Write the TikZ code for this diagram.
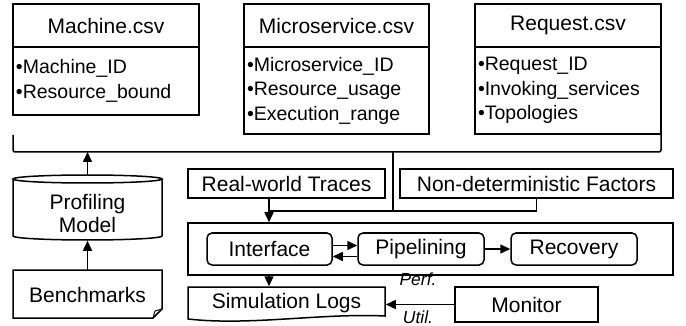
\documentclass[tikz,border=0pt]{standalone}
\usepackage{fontspec}
\setmainfont{Liberation Sans}
\usetikzlibrary{arrows.meta}
\begin{document}
\begin{tikzpicture}[x=1pt,y=-1pt,line width=1.5pt,
  lbl/.style={font=\fontsize{21}{23}\selectfont, inner sep=0pt},
  box/.style={draw, rectangle, inner sep=0pt, font=\fontsize{21}{25}\selectfont},
  listbox/.style={draw, rectangle, inner xsep=3pt, inner ysep=0pt, align=left,
     font=\fontsize{19.5}{24.5}\selectfont},
  rbox/.style={box, rounded corners=5pt, minimum width=125pt, minimum height=32pt},
  plain/.style={inner sep=0pt, font=\fontsize{21}{25}\selectfont},
  note/.style={font=\fontsize{17.5}{19}\selectfont\itshape, inner sep=0pt},
  arr/.style={-{Triangle[length=10pt,width=9pt]}}]
\useasboundingbox (0,0) rectangle (686,326);

% csv tables
\node[box, minimum width=186pt, minimum height=43pt] (mt) at (106,25.5) {Machine.csv};
\node[listbox, text width=180pt, minimum height=68pt] (mb) at (106,81)
  {•Machine\_ID\\•Resource\_bound};
\node[box, minimum width=185pt, minimum height=43pt] (st) at (336.5,25.5) {Microservice.csv};
\node[listbox, text width=179pt, minimum height=87pt] (sb) at (336.5,90.5)
  {•Microservice\_ID\\•Resource\_usage\\•Execution\_range};
\node[box, minimum width=186pt, minimum height=43pt] (qt) at (568,25.5) {Request.csv};
\node[listbox, text width=180pt, minimum height=87pt] (qb) at (568,90.5)
  {•Request\_ID\\•Invoking\_services\\•Topologies};

% bracket
\coordinate (bA) at (13,135);
\coordinate (bB) at (13,152);
\coordinate (bC) at (661,152);
\coordinate (bD) at (661,135);
\coordinate (bJ) at (393,152);
\draw[rounded corners=2pt] (bA) -- (bB) -- (bC) -- (bD);

% profiling model (cylinder)
\node[plain, minimum width=149pt, minimum height=65pt] (prof) at (87.5,207.5) {};
\draw (13,179) -- (13,236) arc[start angle=180,end angle=360,x radius=74.5pt,y radius=4pt] -- (162,179);
\draw (87.5,179) ellipse[x radius=74.5pt, y radius=4pt];
\node[lbl, align=center] (profT) at (87.5,213) {Profiling\\Model};

% benchmarks (note)
\node[plain, minimum width=149pt, minimum height=48pt] (bench) at (87.5,295) {Benchmarks};
\draw (13,270) -- (162,270) -- (162,309) -- (153,318) -- (13,318) -- cycle;
\draw[line width=0.9pt] (153,318) -- (155,311) -- (162,309);

\draw[arr] (bench.north) -- (prof.south);
\draw[arr] (prof.north) -- (prof.north |- bB);

% inputs
\node[box, minimum width=197pt, minimum height=29pt] (rw) at (286.5,183.5) {Real-world Traces};
\node[box, minimum width=273pt, minimum height=29pt] (nd) at (536.5,183.5) {Non-deterministic Factors};
\coordinate (jM) at (393,211);
\coordinate (jL) at (269,211);
\draw (bJ) -- (jM);
\draw (nd.south) -- (nd.south |- jM) -- (jL);

% simulator
\node[box, minimum width=485pt, minimum height=52pt] (big) at (430.5,249) {};
\node[rbox] (if) at (269.5,249) {Interface};
\node[rbox, minimum width=126pt] (pl) at (421,249) {Pipelining};
\node[rbox, minimum width=126pt] (rc) at (574,249) {Recovery};
\draw[arr] (rw.south -| jL) -- (big.north -| jL);
\draw[arr] ([yshift=3.5pt]if.east) -- ([yshift=3.5pt]if.east -| pl.west);
\draw[arr] ([yshift=-7.5pt]pl.west) -- ([yshift=-7.5pt]pl.west -| if.east);
\draw[arr] (pl.east) -- (rc.west);

% logs and monitor
\node[plain, minimum width=197pt, minimum height=33pt] (sim) at (286.5,303.5) {Simulation Logs};
\draw (188,287) -- (385,287) -- (385,316) .. controls (320,313) and (250,326) .. (188,319) -- cycle;
\draw[arr] (big.south -| jL) -- (sim.north -| jL);
\node[box, minimum width=143pt, minimum height=35pt] (mon) at (526.5,304.5) {Monitor};
\draw[arr] (mon.west) -- (mon.west -| sim.east);
\node[note] (perf) at (418,279) {Perf.};
\node[note] (util) at (418,317) {Util.};
\end{tikzpicture}
\end{document}
